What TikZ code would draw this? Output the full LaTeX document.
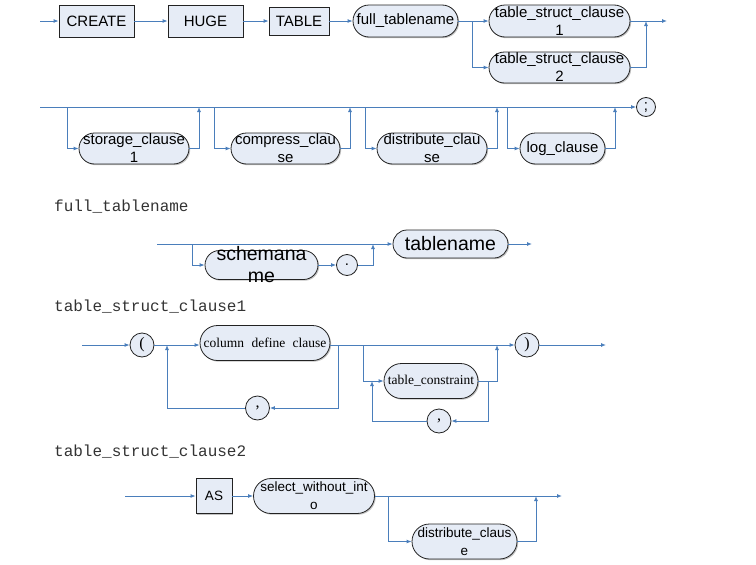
\documentclass[tikz,border=0pt]{standalone}
\usepackage{fontspec}
\setmainfont{Liberation Sans}
\newfontfamily\serfont{Liberation Serif}
\newfontfamily\monofont{Liberation Mono}
\usetikzlibrary{shapes.misc,arrows.meta,shadows}
\definecolor{linec}{HTML}{4A7EBB}
\definecolor{fillc}{HTML}{E6ECF6}
\definecolor{bordc}{HTML}{222222}
\definecolor{headc}{HTML}{333333}
\newcommand\fA{\fontsize{15}{18}\selectfont}
\newcommand\fB{\fontsize{19.5}{22}\selectfont}
\newcommand\fC{\fontsize{13.5}{18}\selectfont}
\newcommand\fS{\serfont\fontsize{13.5}{16}\selectfont}
\newcommand\fP{\serfont\fontsize{16}{18}\selectfont}
\newcommand\fH{\monofont\fontsize{16}{18}\selectfont}
\newcommand\ntnode[7]{%
  \node[ntbox,minimum width=#4,minimum height=#5] (#1) at (#2,#3) {};
  \node[txt,font=#6] (#1-t) at (#1.center) {#7};}
\tikzset{
  conn/.style={draw=linec,line width=0.9pt,-{Latex[length=5pt,width=4pt]}},
  shad/.style={drop shadow={shadow xshift=1.2pt,shadow yshift=-1.2pt,fill=black!40,opacity=0.6}},
  termbox/.style={rectangle,draw=bordc,line width=0.8pt,fill=fillc,inner sep=0pt,shad},
  ntbox/.style={rounded rectangle,draw=bordc,line width=0.8pt,fill=fillc,inner sep=0pt,shad},
  txt/.style={inner sep=0pt,align=center,text=black},
  circ/.style={circle,draw=bordc,line width=0.8pt,fill=fillc,inner sep=0pt,minimum size=#1},
  circ/.default=22pt,
  head/.style={anchor=west,inner sep=0pt,font=\fH,text=headc}
}
\begin{document}
\begin{tikzpicture}[x=1pt,y=-1pt]
\useasboundingbox (0,0) rectangle (756,565);

% ---------- row 1 ----------
\coordinate (s1) at (40,21);
\node[termbox,minimum width=75pt,minimum height=32pt,font=\fA] (create) at (96.5,21) {CREATE};
\node[termbox,minimum width=75pt,minimum height=32pt,font=\fA] (huge) at (205.5,21) {HUGE};
\node[termbox,minimum width=60pt,minimum height=28pt,font=\fA] (table) at (299,21) {TABLE};
\ntnode{ftn}{405.5}{21}{105pt}{32pt}{\fA}{full\_tablename}
\ntnode{tscA}{559.5}{21}{141pt}{32pt}{\fA}{table\_struct\_clause\\1}
\ntnode{tscB}{559.5}{67.5}{141pt}{31pt}{\fA}{table\_struct\_clause\\2}
\coordinate (sp1) at (472,21);
\coordinate (mg1) at (646,21);
\coordinate (e1) at (667,21);
\draw[conn] (s1) -- (create.west);
\draw[conn] (create.east) -- (huge.west);
\draw[conn] (huge.east) -- (table.west);
\draw[conn] (table.east) -- (ftn.west);
\draw[conn] (ftn.east) -- (tscA.west);
\draw[conn] (sp1) |- (tscB.west);
\draw[conn] (tscB.east) -| (mg1);
\draw[conn] (tscA.east) -- (e1);

% ---------- row 2 ----------
\coordinate (s2) at (40,107);
\node[circ=19pt,font=\fA] (semi) at (646,107) {;};
\ntnode{stor}{134}{148.5}{110pt}{31pt}{\fA}{storage\_clause\\1}
\ntnode{comp}{285.5}{148.5}{109pt}{31pt}{\fA}{compress\_clau\\se}
\ntnode{dist}{432}{148.5}{110pt}{31pt}{\fA}{distribute\_clau\\se}
\ntnode{logc}{562.5}{148.5}{85pt}{31pt}{\fA}{log\_clause}
\coordinate (b1) at (67,107);  \coordinate (u1) at (199,107);
\coordinate (b2) at (214,107); \coordinate (u2) at (350,107);
\coordinate (b3) at (365,107); \coordinate (u3) at (497,107);
\coordinate (b4) at (507,107); \coordinate (u4) at (615,107);
\draw[conn] (s2) -- (semi.west);
\draw[conn] (b1) |- (stor.west);
\draw[conn] (stor.east) -| (u1);
\draw[conn] (b2) |- (comp.west);
\draw[conn] (comp.east) -| (u2);
\draw[conn] (b3) |- (dist.west);
\draw[conn] (dist.east) -| (u3);
\draw[conn] (b4) |- (logc.west);
\draw[conn] (logc.east) -| (u4);

% ---------- full_tablename ----------
\node[head] (h1) at (54,207) {full\_tablename};
\coordinate (s3) at (157,244);
\ntnode{schema}{261.5}{265}{113pt}{29pt}{\fB}{schemana\\me}
\node[circ=21pt,font=\fA] (dot) at (347,265) {.};
\ntnode{tname}{450.5}{244}{115pt}{28pt}{\fB}{tablename}
\coordinate (b5) at (192,244);
\coordinate (u5) at (373,244);
\coordinate (e3) at (532,244);
\draw[conn] (s3) -- (tname.west);
\draw[conn] (b5) |- (schema.west);
\draw[conn] (schema.east) -- (dot.west);
\draw[conn] (dot.east) -| (u5);
\draw[conn] (tname.east) -- (e3);

% ---------- table_struct_clause1 ----------
\node[head] (h2) at (54,307) {table\_struct\_clause1};
\coordinate (s4) at (82,345);
\node[circ=24pt,font=\fP] (lp) at (142,345) {(};
\ntnode{cdc}{265}{343}{130pt}{35pt}{\fS}{column\hspace{4pt} define\hspace{4pt} clause}
\node[circ=24pt,font=\fP] (cmA) at (257.5,408) {,};
\node[circ=24pt,font=\fP] (rp) at (527,345) {)};
\ntnode{tcon}{431}{381}{94pt}{35pt}{\fS}{table\_constraint}
\node[circ=24pt,font=\fP] (cmB) at (439,421) {,};
\coordinate (j1) at (167,345);
\coordinate (d1) at (338,345);
\coordinate (b6) at (363,345);
\coordinate (u6) at (497,345);
\coordinate (d2) at (488,381);
\coordinate (j2) at (372,381);
\coordinate (e4) at (606,345);
\draw[conn] (s4) -- (lp.west);
\draw[conn] (lp.east) -- (lp.east -| cdc.west);
\draw[conn] (cdc.east |- rp.west) -- (rp.west);
\draw[conn] (rp.east) -- (e4);
\draw[conn] (d1) |- (cmA.east);
\draw[conn] (cmA.west) -| (j1);
\draw[conn] (b6) |- (tcon.west);
\draw[conn] (tcon.east) -| (u6);
\draw[conn] (d2) |- (cmB.east);
\draw[conn] (cmB.west) -| (j2);

% ---------- table_struct_clause2 ----------
\node[head] (h3) at (54,452) {table\_struct\_clause2};
\coordinate (s5) at (125,496);
\node[termbox,minimum width=36pt,minimum height=35pt,font=\fC] (as) at (214,496) {AS};
\ntnode{swi}{314}{496}{121pt}{35pt}{\fC}{select\_without\_int\\o}
\ntnode{dcl}{464.5}{541.5}{105pt}{35pt}{\fC}{distribute\_claus\\e}
\coordinate (b7) at (388,496);
\coordinate (u7) at (536,496);
\coordinate (e5) at (562,496);
\draw[conn] (s5) -- (as.west);
\draw[conn] (as.east) -- (swi.west);
\draw[conn] (swi.east) -- (e5);
\draw[conn] (b7) |- (dcl.west);
\draw[conn] (dcl.east) -| (u7);
\end{tikzpicture}
\end{document}
